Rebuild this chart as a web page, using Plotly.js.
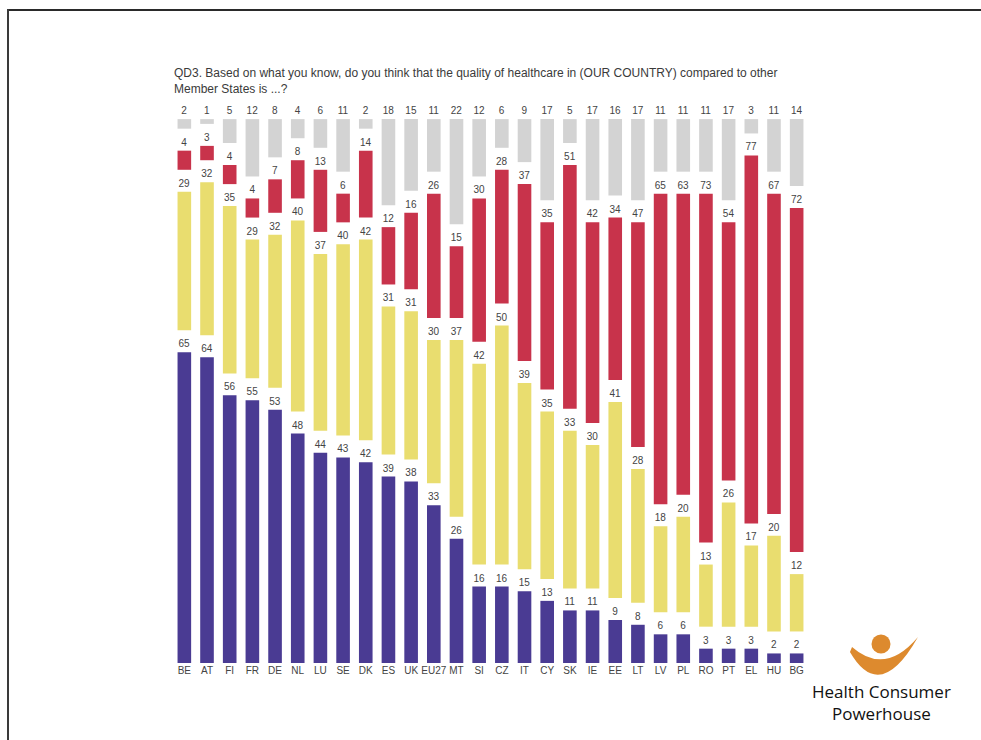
<!DOCTYPE html>
<html>
<head>
<meta charset="utf-8">
<script src="https://cdn.plot.ly/plotly-3.0.1.min.js"></script>
<style>
  html, body { margin: 0; padding: 0; background: #fff; }
  #wrap { position: relative; width: 981px; height: 740px; }
  #chart { position: absolute; left: 0; top: 0; width: 981px; height: 740px; }
  #frameTop { position: absolute; left: 7px; top: 9px; width: 974px; height: 2px; background: #2a2a2a; pointer-events: none; }
  #frameLeft { position: absolute; left: 7px; top: 9px; width: 2px; height: 731px; background: #3a3a3a; pointer-events: none; }
</style>
</head>
<body>
<div id="wrap">
  <div id="chart"></div>
  <div id="frameTop"></div>
  <div id="frameLeft"></div>
</div>
<script>
// ---- Data ----
const countries = ["BE","AT","FI","FR","DE","NL","LU","SE","DK","ES","UK","EU27","MT","SI","CZ","IT","CY","SK","IE","EE","LT","LV","PL","RO","PT","EL","HU","BG"];
const better   = [65,64,56,55,53,48,44,43,42,39,38,33,26,16,16,15,13,11,11,9,8,6,6,3,3,3,2,2];
const same     = [29,32,35,29,32,40,37,40,42,31,31,30,37,42,50,39,35,33,30,41,28,18,20,13,26,17,20,12];
const worse    = [4,3,4,4,7,8,13,6,14,12,16,26,15,30,28,37,35,51,42,34,47,65,63,73,54,77,67,72];
const dontKnow = [2,1,5,12,8,4,6,11,2,18,15,11,22,12,6,9,17,5,17,16,17,11,11,11,17,3,11,14];

const titleText = "QD3. Based on what you know, do you think that the quality of healthcare in (OUR COUNTRY) compared to other<br>Member States is ...?";
const logoText = "Health Consumer<br>Powerhouse";

// ---- Layout constants ----
const W = 981, H = 740;
const M = {l: 173, r: 173, t: 100, b: 77};
const PW = W - M.l - M.r, PH = H - M.t - M.b;
const GAP = 4.6;           // visual gap between stacked segments (value units)
const YMAX = 117.8;
const px2x = px => (px - M.l) / PW;
const py2y = py => (H - M.b - py) / PH;

const baseSame  = better.map((v, i) => v + GAP);
const baseWorse = better.map((v, i) => v + same[i] + 2 * GAP);
const baseDK    = better.map((v, i) => v + same[i] + worse[i] + 3 * GAP);

const labelFont = {family: "'Liberation Sans Narrow', 'Arial Narrow', 'Liberation Sans', sans-serif", size: 10, color: "#444"};

function mk(vals, base, color, name) {
  return {
    type: "bar", x: countries, y: vals, base: base, name: name,
    marker: {color: color},
    text: vals.map(String), textposition: "outside", textfont: labelFont,
    cliponaxis: false, constraintext: "none", hoverinfo: "skip"
  };
}

const data = [
  mk(better, better.map(() => 0), "#4a3b93", "Better"),
  mk(same, baseSame, "#e9dd6f", "Same"),
  mk(worse, baseWorse, "#c8334b", "Worse"),
  mk(dontKnow, baseDK, "#d3d3d3", "Don't know")
];

// Logo swoosh path (pixel coords converted to paper)
function P(x, y) { return px2x(x).toFixed(4) + "," + py2y(y).toFixed(4); }
const swoosh = "M" + P(850, 652) + " Q" + P(880, 704) + " " + P(918, 637) +
               " Q" + P(885, 676) + " " + P(852, 647) + " Z";

const layout = {
  width: W, height: H,
  margin: M,
  paper_bgcolor: "#fff", plot_bgcolor: "#fff",
  barmode: "overlay", bargap: 0.4,
  showlegend: false,
  font: {family: "'Liberation Sans Narrow', 'Arial Narrow', 'Liberation Sans', sans-serif", color: "#444"},
  xaxis: {type: "category", showgrid: false, showline: false, zeroline: false, ticks: "",
          tickfont: {family: labelFont.family, size: 10, color: "#444"}, fixedrange: true},
  yaxis: {visible: false, range: [0, YMAX], fixedrange: true},
  shapes: [
    {type: "path", xref: "paper", yref: "paper", path: swoosh, fillcolor: "#dd8a2e", line: {width: 0}},
    {type: "circle", xref: "paper", yref: "paper",
     x0: px2x(871.5), x1: px2x(890.5), y0: py2y(653.5), y1: py2y(634.5),
     fillcolor: "#dd8a2e", line: {width: 0}}
  ],
  annotations: [
    {xref: "paper", yref: "paper", x: px2x(172), y: py2y(64), xanchor: "left", yanchor: "top",
     align: "left", showarrow: false, text: titleText,
     font: {family: "'Liberation Sans Narrow', 'Arial Narrow', 'Liberation Sans', sans-serif", size: 12, color: "#3a3a3a"}},
    {xref: "paper", yref: "paper", x: px2x(881), y: py2y(702), xanchor: "center", yanchor: "middle",
     align: "center", showarrow: false, text: logoText,
     font: {family: "'Open Sans', 'Noto Sans', sans-serif", size: 17, color: "#111"}}
  ]
};

Plotly.newPlot("chart", data, layout, {displayModeBar: false, staticPlot: true});
</script>
</body>
</html>
